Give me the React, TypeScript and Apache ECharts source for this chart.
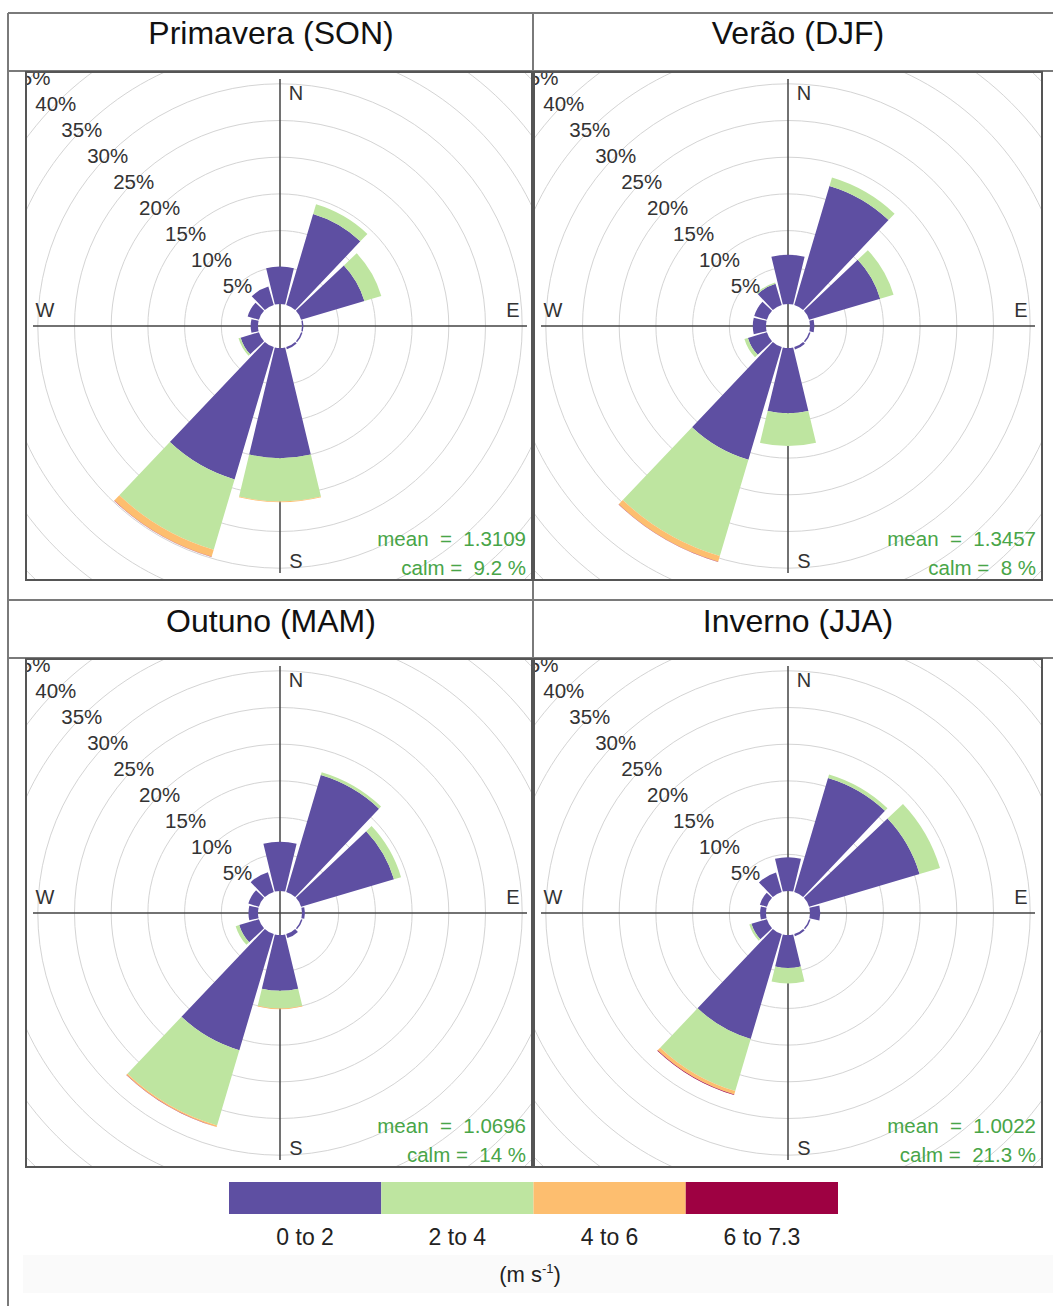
import React, { useEffect, useRef } from "react";
import * as echarts from "echarts";

// ---------- data ----------
const DIRECTIONS = ["N", "30", "60", "E", "120", "150", "S", "210", "240", "W", "300", "330"];
const BINS = ["0 to 2", "2 to 4", "4 to 6", "6 to 7.3"];
const BIN_COLORS = ["#5E4FA2", "#BEE5A0", "#FDBE6F", "#9E0142"];
const PERCENT_TICKS = [5, 10, 15, 20, 25, 30, 35, 40, 45];
const TITLES = ["Primavera (SON)", "Verão (DJF)", "Outuno (MAM)", "Inverno (JJA)"];
const MEANS = ["1.3109", "1.3457", "1.0696", "1.0022"];
const CALMS = ["9.2", "8", "14", "21.3"];
const UNIT = "(m s{sup|-1})";

// frequencies (%) per direction, per speed bin
const son_0_2 = [5.1, 12.9, 9.0, 0.2, 0.2, 0.3, 15.0, 18.8, 2.6, 1.0, 1.6, 2.6];
const son_2_4 = [0, 1.4, 2.4, 0, 0, 0, 5.9, 10.0, 0.3, 0, 0, 0];
const son_4_6 = [0, 0, 0, 0, 0, 0, 0.1, 1.0, 0, 0, 0, 0];
const son_6_7 = [0, 0, 0, 0, 0, 0, 0, 0.03, 0, 0, 0, 0];

const djf_0_2 = [6.7, 16.9, 10.1, 0.6, 0.2, 0.35, 8.9, 16.0, 2.7, 1.8, 1.8, 3.0];
const djf_2_4 = [0, 1.2, 1.9, 0, 0, 0, 4.45, 13.7, 0.5, 0, 0, 0.2];
const djf_4_6 = [0, 0, 0, 0, 0, 0, 0, 0.8, 0, 0, 0, 0];
const djf_6_7 = [0, 0, 0, 0, 0, 0, 0, 0.03, 0, 0, 0, 0];

const mam_0_2 = [6.7, 16.6, 13.2, 0.4, 0.2, 0.55, 7.6, 16.5, 2.8, 1.3, 1.5, 2.8];
const mam_2_4 = [0, 0.4, 1.0, 0, 0, 0, 2.4, 10.7, 0.5, 0, 0, 0];
const mam_4_6 = [0, 0, 0, 0, 0, 0, 0.1, 0.2, 0, 0, 0, 0];
const mam_6_7 = [0, 0, 0, 0, 0, 0, 0, 0.02, 0, 0, 0, 0];

const jja_0_2 = [4.6, 16.2, 15.7, 1.4, 0.2, 0.3, 4.5, 14.9, 2.2, 0.8, 1.0, 2.75];
const jja_2_4 = [0, 0.5, 2.9, 0, 0, 0, 2.1, 7.4, 0.3, 0, 0, 0];
const jja_4_6 = [0, 0, 0, 0, 0, 0, 0, 0.5, 0, 0, 0, 0];
const jja_6_7 = [0, 0, 0, 0, 0, 0, 0, 0.07, 0, 0, 0, 0];

const PANEL_DATA = [
  [son_0_2, son_2_4, son_4_6, son_6_7],
  [djf_0_2, djf_2_4, djf_4_6, djf_6_7],
  [mam_0_2, mam_2_4, mam_4_6, mam_6_7],
  [jja_0_2, jja_2_4, jja_4_6, jja_6_7],
];

// ---------- layout ----------
const FONT = "'Liberation Sans', Arial, sans-serif";
const NB = "\u00a0";
const PLOTS = [
  { left: 25, top: 71, w: 508, h: 510 },
  { left: 533, top: 71, w: 510, h: 510 },
  { left: 25, top: 658, w: 508, h: 510 },
  { left: 533, top: 658, w: 510, h: 510 },
];
const TITLE_POS = [
  [271, 33],
  [798, 33],
  [271, 621],
  [798, 621],
];
const HOLE = 22;
const PX_PER_PCT = 7.34;
const MAXP = 45;

function panelOption(i: number) {
  const p = PLOTS[i];
  const cx = 255;
  const cy = 255;
  const outer = HOLE + MAXP * PX_PER_PCT;
  const circleColors = ["rgba(0,0,0,0)"].concat(PERCENT_TICKS.map(() => "#d4d4d4"));
  const graphics: any[] = [];
  PERCENT_TICKS.forEach((t) => {
    const r = HOLE + t * PX_PER_PCT;
    graphics.push({
      type: "text",
      x: cx - r * Math.SQRT1_2 - 1,
      y: cy - r * Math.SQRT1_2 + 1,
      z: 10,
      style: { text: t + "%", fontSize: 20.5, fontFamily: FONT, fill: "#333", align: "center", verticalAlign: "middle" },
    });
  });
  const card = [
    ["N", cx + 16, cy - 233],
    ["E", cx + 233, cy - 16],
    ["W", cx - 235, cy - 16],
    ["S", cx + 16, cy + 235],
  ];
  card.forEach(([t, x, y]) => {
    graphics.push({
      type: "text",
      x: x as number,
      y: y as number,
      z: 10,
      style: { text: t as string, fontSize: 20, fontFamily: FONT, fill: "#333", align: "center", verticalAlign: "middle" },
    });
  });
  graphics.push({
    type: "text",
    x: p.w - 7,
    y: p.h - 43,
    z: 10,
    style: {
      text: "mean" + NB + NB + "=" + NB + NB + MEANS[i],
      fontSize: 20.5,
      fontFamily: FONT,
      fill: "#48a548",
      align: "right",
      verticalAlign: "middle",
    },
  });
  graphics.push({
    type: "text",
    x: p.w - 7,
    y: p.h - 14,
    z: 10,
    style: {
      text: "calm" + NB + "=" + NB + NB + CALMS[i] + NB + "%",
      fontSize: 20.5,
      fontFamily: FONT,
      fill: "#48a548",
      align: "right",
      verticalAlign: "middle",
    },
  });
  graphics.push({
    type: "rect",
    z: 20,
    shape: { x: 1, y: 1, width: p.w - 2, height: p.h - 2 },
    style: { fill: "none", stroke: "#555", lineWidth: 2 },
  });

  const hidden = { axisLine: { show: false }, axisTick: { show: false }, axisLabel: { show: false } };
  return {
    animation: false,
    polar: [
      { center: [cx, cy], radius: [HOLE, outer] },
      { center: [cx, cy], radius: 247 },
    ],
    angleAxis: [
      { polarIndex: 0, type: "category", data: DIRECTIONS, startAngle: 105, clockwise: true, ...hidden, splitLine: { show: false } },
      {
        polarIndex: 1,
        type: "value",
        min: 0,
        max: 360,
        interval: 90,
        startAngle: 90,
        ...hidden,
        splitLine: { show: true, lineStyle: { color: "#444", width: 1.5 } },
      },
    ],
    radiusAxis: [
      {
        polarIndex: 0,
        type: "value",
        min: 0,
        max: MAXP,
        interval: 5,
        ...hidden,
        splitLine: { show: true, lineStyle: { color: circleColors, width: 1 } },
      },
      { polarIndex: 1, type: "value", min: 0, max: 1, ...hidden, splitLine: { show: false } },
    ],
    series: BINS.map((b, k) => ({
      type: "bar",
      name: b,
      coordinateSystem: "polar",
      polarIndex: 0,
      stack: "rose",
      data: PANEL_DATA[i][k].map((v) => (v > 0 ? v : "-")),
      barCategoryGap: "10%",
      itemStyle: { color: BIN_COLORS[k] },
      silent: true,
    })),
    graphic: graphics,
  };
}

function bgOption() {
  const lc = "#7a7a7a";
  const lines: any[] = [
    [8, 13, 1053, 13],
    [8, 13, 8, 1306],
    [533, 13, 533, 1168],
    [8, 71, 1053, 71],
    [8, 600, 1053, 600],
    [8, 658, 1053, 658],
  ].map(([x1, y1, x2, y2]) => ({
    type: "line",
    shape: { x1, y1, x2, y2 },
    style: { stroke: lc, lineWidth: 2 },
  }));
  const titles = TITLES.map((t, i) => ({
    type: "text",
    x: TITLE_POS[i][0],
    y: TITLE_POS[i][1],
    style: { text: t, fontSize: 32, fontFamily: FONT, fill: "#111", align: "center", verticalAlign: "middle" },
  }));
  return {
    animation: false,
    grid: { left: 229, top: 1182, width: 609, height: 32 },
    xAxis: {
      type: "category",
      data: BINS,
      axisLine: { show: false },
      axisTick: { show: false },
      axisLabel: { margin: 11, fontSize: 23, fontFamily: FONT, color: "#222" },
    },
    yAxis: { type: "value", min: 0, max: 1, show: false },
    series: [
      {
        type: "bar",
        data: BINS.map((b, i) => ({ value: 1, itemStyle: { color: BIN_COLORS[i] } })),
        barWidth: "100%",
        silent: true,
      },
    ],
    graphic: [
      {
        type: "rect",
        shape: { x: 23, y: 1255, width: 1030, height: 38 },
        style: { fill: "#fafafa" },
        z: -1,
      },
      ...lines,
      ...titles,
      {
        type: "text",
        x: 530,
        y: 1274,
        style: {
          text: UNIT,
          fontSize: 22,
          fontFamily: FONT,
          fill: "#222",
          align: "center",
          verticalAlign: "middle",
          rich: { sup: { fontSize: 13, fontFamily: FONT, fill: "#222", verticalAlign: "top", padding: [0, 0, 11, 0] } },
        },
      },
    ],
  };
}

export default function App() {
  const bgRef = useRef<HTMLDivElement>(null);
  const r0 = useRef<HTMLDivElement>(null);
  const r1 = useRef<HTMLDivElement>(null);
  const r2 = useRef<HTMLDivElement>(null);
  const r3 = useRef<HTMLDivElement>(null);
  const refs = [r0, r1, r2, r3];

  useEffect(() => {
    const charts: echarts.ECharts[] = [];
    const bg = echarts.init(bgRef.current as HTMLDivElement, null, { renderer: "svg" });
    bg.setOption(bgOption() as any);
    charts.push(bg);
    refs.forEach((r, i) => {
      const c = echarts.init(r.current as HTMLDivElement, null, { renderer: "svg" });
      c.setOption(panelOption(i) as any);
      charts.push(c);
    });
    return () => charts.forEach((c) => c.dispose());
  }, []);

  return (
    <div style={{ position: "absolute", left: 0, top: 0, width: 1053, height: 1306, overflow: "hidden", background: "#fff" }}>
      <div ref={bgRef} style={{ position: "absolute", left: 0, top: 0, width: 1053, height: 1306 }} />
      {PLOTS.map((p, i) => (
        <div
          key={i}
          ref={refs[i]}
          style={{ position: "absolute", left: p.left, top: p.top, width: p.w, height: p.h, overflow: "hidden" }}
        />
      ))}
    </div>
  );
}
